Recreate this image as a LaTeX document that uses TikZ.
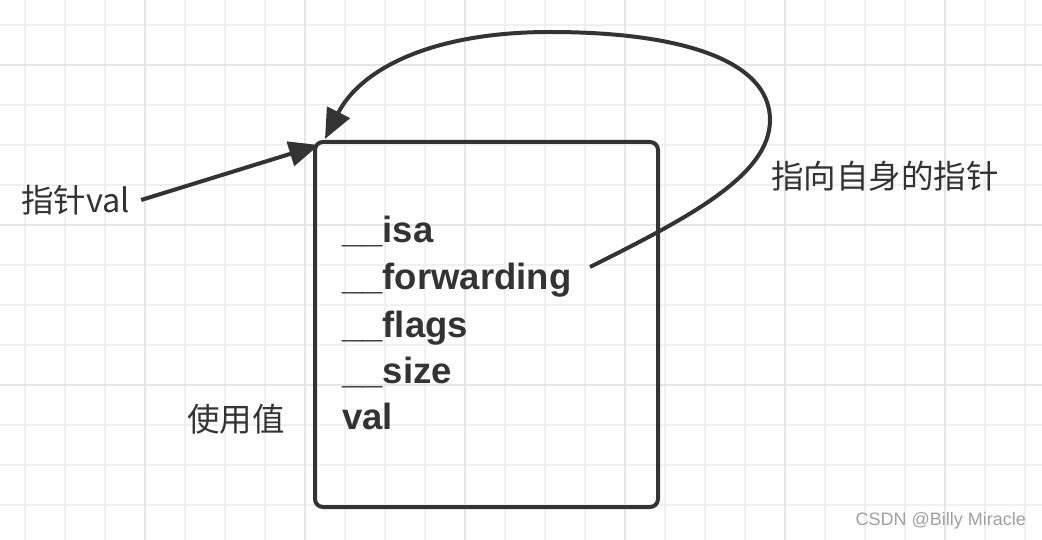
\documentclass[tikz,border=0pt]{standalone}
\usepackage{fontspec}
\newfontfamily\cjk{Noto Sans CJK SC}
\newfontfamily\lsans{Liberation Sans}
\usetikzlibrary{arrows.meta}
\definecolor{ink}{HTML}{333333}
\definecolor{gridminor}{HTML}{F0F0F0}
\definecolor{gridmajor}{HTML}{E6E6E6}
\definecolor{wm}{HTML}{A0A0A0}
\tikzset{
  gridline/.style={gridminor, line width=2pt},
  gridbold/.style={gridmajor, line width=2pt},
  field/.style={anchor=base west, inner sep=0pt, text=ink, font=\lsans\bfseries\fontsize{36.5}{40}\selectfont},
  cjklabel/.style={inner sep=0pt, text=ink, font=\cjk\fontsize{32.5}{36}\selectfont},
  structbox/.style={draw=ink, line width=4pt, rounded corners=8pt, minimum width=343pt, minimum height=365pt, inner sep=0pt},
  ptr/.style={draw=ink, line width=4pt, -{Triangle[length=30pt,width=25pt]}},
}
\begin{document}
\begin{tikzpicture}[x=1pt,y=-1pt]
\useasboundingbox (0,0) rectangle (1042,540);
\fill[white] (0,0) rectangle (1042,540);
% grid
\foreach \x in {25,65,...,1025} {\draw[gridline] (\x,0) -- (\x,540);}
\foreach \y in {25,65,...,505} {\draw[gridline] (0,\y) -- (1042,\y);}
\foreach \x in {145,305,...,1025} {\draw[gridbold] (\x,0) -- (\x,540);}
\foreach \y in {65,225,385} {\draw[gridbold] (0,\y) -- (1042,\y);}
% struct box
\node[structbox] (box) at (486.5,324.5) {};
\node[field] (isa) at (342,243) {\_\_isa};
\node[field] (fwd) at (342,290) {\_\_forwarding};
\node[field] (flags) at (342,337) {\_\_flags};
\node[field] (size) at (342,383) {\_\_size};
\node[field] (val) at (342,429) {val};
% labels
\node[cjklabel, anchor=west] (ptrval) at (21,200) {指针val};
\node[cjklabel, anchor=west] (selfptr) at (771,176) {指向自身的指针};
\node[cjklabel, anchor=west] (useval) at (187,419) {使用值};
\node[anchor=east, inner sep=0pt, text=wm, font=\lsans\fontsize{18}{20}\selectfont] (wmark) at (1026,521) {CSDN @Billy Miracle};
% connectors
\coordinate (tipA) at (319,145);
\coordinate (startB) at (590,267);
\coordinate (tipB) at (325,139);
\draw[ptr] ([xshift=11pt]ptrval.east) -- (tipA);
\draw[ptr] (startB) .. controls (690,217) and (770,175) .. (770,120)
  .. controls (770,60) and (680,32) .. (550,32)
  .. controls (430,32) and (360,70) .. (tipB);
\end{tikzpicture}
\end{document}
